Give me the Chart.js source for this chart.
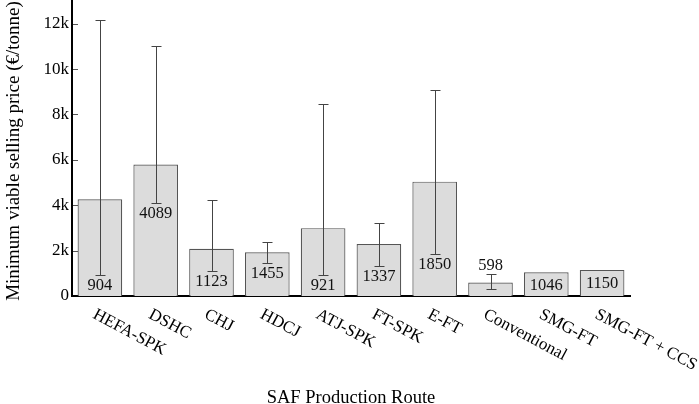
<!DOCTYPE html>
<html><head><meta charset="utf-8">
<script src="https://cdn.jsdelivr.net/npm/chart.js@4"></script>
<style>html,body{margin:0;padding:0;background:#fff}#wrap{width:699px;height:404px}</style>
</head><body><div id="wrap"><canvas id="c" width="699" height="404"></canvas></div>
<script>
const categories = ['HEFA-SPK','DSHC','CHJ','HDCJ','ATJ-SPK','FT-SPK','E-FT','Conventional','SMG-FT','SMG-FT + CCS'];
const priceValues = [4260,5790,2080,1930,2990,2290,5040,598,1046,1150];
const errorLow = [904,4089,1123,1455,921,1337,1850,320,null,null];
const errorHigh = [12160,11000,4250,2360,8440,3230,9070,960,null,null];
const barLabels = ['904','4089','1123','1455','921','1337','1850','598','1046','1150'];
const labelPlacement = ['below','below','below','below','below','below','below','above','inside','inside'];
const yTickValues = [0,2000,4000,6000,8000,10000,12000];
const yTickLabels = ['0','2k','4k','6k','8k','10k','12k'];
const yMax = 13000;
const yTitle = 'Minimum viable selling price (€/tonne)';
const xTitle = 'SAF Production Route';

const SERIF = '"Liberation Serif","Times New Roman",serif';

const overlay = {
  id: 'overlay',
  afterDatasetsDraw(chart) {
    const ctx = chart.ctx, xs = chart.scales.x, ys = chart.scales.y;
    const base = ys.getPixelForValue(0);
    ctx.save();
    // error bars
    ctx.strokeStyle = '#444'; ctx.lineWidth = 1;
    categories.forEach((c, i) => {
      if (errorLow[i] == null) return;
      const x = Math.round(xs.getPixelForValue(i)) + 0.5;
      const yl = Math.round(ys.getPixelForValue(errorLow[i])) + 0.5;
      const yh = Math.round(ys.getPixelForValue(errorHigh[i])) + 0.5;
      ctx.beginPath();
      ctx.moveTo(x, yl); ctx.lineTo(x, yh);
      ctx.moveTo(x - 5, yl); ctx.lineTo(x + 5, yl);
      ctx.moveTo(x - 5, yh); ctx.lineTo(x + 5, yh);
      ctx.stroke();
    });
    // value labels
    ctx.fillStyle = '#111'; ctx.font = '16.5px ' + SERIF; ctx.textAlign = 'center'; ctx.textBaseline = 'alphabetic';
    categories.forEach((c, i) => {
      const x = xs.getPixelForValue(i);
      let y;
      if (labelPlacement[i] === 'below') y = ys.getPixelForValue(errorLow[i]) + 15;
      else if (labelPlacement[i] === 'above') y = ys.getPixelForValue(errorHigh[i]) - 4;
      else y = (ys.getPixelForValue(priceValues[i]) + base) / 2 + 5.5;
      ctx.fillText(barLabels[i], x, y);
    });
    ctx.restore();
  },
  afterDraw(chart) {
    const ctx = chart.ctx, xs = chart.scales.x, ys = chart.scales.y, a = chart.chartArea;
    ctx.save();
    // inward y ticks
    ctx.strokeStyle = '#555'; ctx.lineWidth = 1;
    yTickValues.forEach(v => {
      if (v === 0) return;
      const y = Math.round(ys.getPixelForValue(v)) + 0.5;
      ctx.beginPath(); ctx.moveTo(a.left + 1, y); ctx.lineTo(a.left + 6, y); ctx.stroke();
    });
    // rotated category labels
    ctx.fillStyle = '#000'; ctx.font = '17px ' + SERIF; ctx.textAlign = 'left'; ctx.textBaseline = 'alphabetic';
    categories.forEach((c, i) => {
      const x = xs.getPixelForValue(i);
      ctx.save();
      ctx.translate(x - 8, a.bottom + 21.5);
      ctx.rotate(28 * Math.PI / 180);
      ctx.fillText(c, 0, 0);
      ctx.restore();
    });
    // axis titles
    ctx.font = '18.5px ' + SERIF; ctx.textAlign = 'center';
    ctx.fillText(xTitle, (a.left + a.right) / 2, 403);
    ctx.save();
    ctx.translate(19, 151);
    ctx.rotate(-Math.PI / 2);
    ctx.font = '19px ' + SERIF;
    ctx.fillText(yTitle, 0, 0);
    ctx.restore();
    ctx.restore();
  }
};

new Chart(document.getElementById('c'), {
  type: 'bar',
  data: {
    labels: categories,
    datasets: [{
      data: priceValues,
      backgroundColor: '#dcdcdc',
      borderColor: '#555',
      borderWidth: 1.2,
      borderSkipped: 'bottom',
      barPercentage: 0.8,
      categoryPercentage: 1.0
    }]
  },
  options: {
    responsive: false,
    animation: false,
    devicePixelRatio: 1,
    layout: { padding: { top: 1, right: 69, left: 0, bottom: 0 } },
    plugins: { legend: { display: false }, tooltip: { enabled: false } },
    scales: {
      x: {
        type: 'category',
        z: 1,
        ticks: { display: false },
        grid: { display: false, drawTicks: false },
        border: { display: true, color: '#000', width: 2 },
        afterFit(s) { s.height = 108; }
      },
      y: {
        min: 0, max: yMax,
        z: 1,
        afterBuildTicks(s) { s.ticks = yTickValues.map(v => ({ value: v })); },
        ticks: {
          callback: (v) => yTickLabels[yTickValues.indexOf(v)],
          font: { family: SERIF, size: 17 },
          color: '#000',
          padding: 3
        },
        grid: { display: false, drawTicks: false },
        border: { display: true, color: '#000', width: 2 },
        afterFit(s) { s.width = 72; s.paddingTop = 0; s.paddingBottom = 0; }
      }
    }
  },
  plugins: [overlay]
});
</script>
</body></html>
